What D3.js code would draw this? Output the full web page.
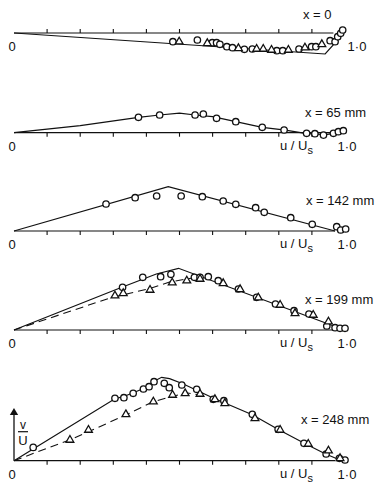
<!DOCTYPE html>
<html>
<head>
<meta charset="utf-8">
<script src="https://cdn.jsdelivr.net/npm/d3@7"></script>
<style>
  body { margin: 0; background: #fff; }
  text { font-family: "Liberation Sans", Arial, sans-serif; fill: #111; }
</style>
</head>
<body>
<div id="canvas"></div>
<script>
"use strict"

/* Data: [u/Us, v/U] */
let labels = ["x = 0", "x = 65 mm", "x = 142 mm", "x = 199 mm", "x = 248 mm"];
let tickValues = [0.1, 0.2, 0.3, 0.4, 0.5, 0.6, 0.7, 0.8, 0.9];

let circles0 = [[0.48,-0.087],[0.554,-0.07],[0.599,-0.097],[0.612,-0.097],[0.622,-0.113],[0.643,-0.137],
    [0.66,-0.147],[0.696,-0.163],[0.72,-0.16],[0.794,-0.177],[0.812,-0.177],[0.861,-0.16],[0.899,-0.137],
    [0.912,-0.137],[0.955,-0.077],[0.97,-0.087],[0.978,-0.037],[0.987,-0.003],[0.993,0.03]];
let triangles0 = [[0.499,-0.087],[0.584,-0.103],[0.678,-0.153],[0.733,-0.16],[0.753,-0.16],[0.778,-0.17],
    [0.829,-0.17],[0.879,-0.147],[0.93,-0.113]];
let solid0 = [[0,0],[0.94,-0.21],[0.97,-0.10],[0.99,0.0]];

let circles65 = [[0.376,0.154],[0.44,0.177],[0.547,0.177],[0.572,0.187],[0.612,0.144],[0.67,0.11],
    [0.75,0.054],[0.816,0.027],[0.884,-0.006],[0.909,-0.01],[0.935,-0.024],[0.965,-0.006],[0.98,0.01],[0.995,0.02]];
let solid65 = [[0,0],[0.2,0.07],[0.376,0.154],[0.44,0.177],[0.5,0.195],[0.547,0.177],[0.6,0.16],[0.67,0.11],
    [0.75,0.054],[0.82,0.025],[0.88,-0.006],[0.94,-0.02],[0.97,-0.006],[1.0,0.02]];

let circles142 = [[0.278,0.27],[0.366,0.333],[0.431,0.35],[0.505,0.35],[0.569,0.343],[0.632,0.30],[0.67,0.267],
    [0.73,0.233],[0.756,0.187],[0.836,0.133],[0.901,0.067],[0.975,0.043],[0.987,0.01],[1.002,0.02]];
let solid142 = [[0,0],[0.466,0.443],[0.97,0.0]];

let circles199 = [[0.328,0.427],[0.389,0.527],[0.443,0.533],[0.474,0.557],[0.545,0.527],[0.562,0.527],
    [0.587,0.533],[0.617,0.493],[0.678,0.41],[0.733,0.327],[0.79,0.26],[0.846,0.193],[0.891,0.16],
    [0.945,0.04],[0.97,0.023],[0.985,0.017],[1.0,0.017]];
let triangles199 = [[0.305,0.343],[0.33,0.367],[0.411,0.40],[0.478,0.473],[0.522,0.493],[0.562,0.51],
    [0.632,0.467],[0.683,0.407],[0.738,0.323],[0.804,0.25],[0.849,0.167],[0.904,0.15],[0.95,0.083]];
let solid199 = [[0,0],[0.32,0.42],[0.43,0.56],[0.497,0.617],[0.95,0.06],[0.985,0.015]];
let dashed199 = [[0,0],[0.29,0.32],[0.35,0.367],[0.41,0.415],[0.47,0.48],[0.53,0.515],[0.565,0.53]];

let circles248 = [[0.058,0.133],[0.305,0.624],[0.332,0.63],[0.36,0.674],[0.391,0.717],[0.408,0.74],
    [0.423,0.79],[0.454,0.774],[0.469,0.73],[0.507,0.757],[0.552,0.714],[0.602,0.614],[0.634,0.60],
    [0.72,0.464],[0.798,0.314],[0.876,0.174],[0.943,0.067],[0.983,0.024],[1.0,0.007]];
let triangles248 = [[0.169,0.207],[0.225,0.307],[0.338,0.463],[0.421,0.59],[0.479,0.657],[0.517,0.673],
    [0.562,0.667],[0.607,0.614],[0.637,0.574],[0.728,0.424],[0.804,0.307],[0.889,0.167],[0.95,0.10],[0.985,0.024]];
let solid248 = [[0,0],[0.305,0.62],[0.33,0.64],[0.36,0.68],[0.39,0.72],[0.42,0.79],[0.446,0.834],[0.47,0.82],
    [0.51,0.77],[0.6,0.63],[0.72,0.46],[0.8,0.31],[0.88,0.17],[0.94,0.07],[0.99,0.0]];
let dashed248 = [[0,0],[0.17,0.21],[0.34,0.46],[0.42,0.59],[0.52,0.68],[0.57,0.65]];

/* Layout */
let svgWidth = 384;
let svgHeight = 490;

let panels = [
    { label: labels[0], base: 33, circles: circles0, triangles: triangles0, solid: solid0, dashed: null,
      tickDir: -1, axisEnd: 0.965, labelX: 303, labelY: 19, oneX: 357, showU: false },
    { label: labels[1], base: 132.7, circles: circles65, triangles: [], solid: solid65, dashed: null,
      tickDir: 1, axisEnd: 0.97, labelX: 305, labelY: 117, oneX: 347, showU: true },
    { label: labels[2], base: 231, circles: circles142, triangles: [], solid: solid142, dashed: null,
      tickDir: 1, axisEnd: 0.97, labelX: 306, labelY: 205, oneX: 347, showU: true },
    { label: labels[3], base: 330, circles: circles199, triangles: triangles199, solid: solid199, dashed: dashed199,
      tickDir: 1, axisEnd: 0.97, labelX: 305, labelY: 304, oneX: 347, showU: true },
    { label: labels[4], base: 460.7, circles: circles248, triangles: triangles248, solid: solid248, dashed: dashed248,
      tickDir: 1, axisEnd: 0.97, labelX: 301, labelY: 424, oneX: 347, showU: true }
];

let svg = d3.select("#canvas")
    .append("svg")
    .attr("width", svgWidth)
    .attr("height", svgHeight);

let xScale = d3.scaleLinear()
    .domain([0, 1])
    .range([14, 345]);

let line = d3.line()
    .x(d => xScale(d[0]));

let triangle = d3.symbol().type(d3.symbolTriangle).size(26);

panels.forEach(function (p, i) {
    let yScale = d3.scaleLinear()
        .domain([0, 1])
        .range([p.base, p.base - 100]);
    line.y(d => yScale(d[1]));

    let g = svg.append("g");

    // axis line
    g.append("line")
        .attr("x1", xScale(0))
        .attr("x2", xScale(p.axisEnd))
        .attr("y1", yScale(0))
        .attr("y2", yScale(0))
        .attr("stroke", "#111")
        .attr("stroke-width", 1.2);

    g.selectAll(".tick")
        .data(tickValues)
        .join("line")
        .attr("x1", d => xScale(d))
        .attr("x2", d => xScale(d))
        .attr("y1", yScale(0))
        .attr("y2", yScale(0) + 4 * p.tickDir)
        .attr("stroke", "#111")
        .attr("stroke-width", 1.1);

    // curves
    g.append("path")
        .attr("d", line(p.solid))
        .attr("fill", "none")
        .attr("stroke", "#111")
        .attr("stroke-width", 1.2);

    if (p.dashed) {
        g.append("path")
            .attr("d", line(p.dashed))
            .attr("fill", "none")
            .attr("stroke", "#111")
            .attr("stroke-width", 1.1)
            .attr("stroke-dasharray", "8,5");
    }

    // markers
    g.selectAll("circle")
        .data(p.circles)
        .join("circle")
        .attr("cx", d => xScale(d[0]))
        .attr("cy", d => yScale(d[1]))
        .attr("r", 3.2)
        .attr("fill", "white")
        .attr("stroke", "#111")
        .attr("stroke-width", 1.3);

    g.selectAll(".tri")
        .data(p.triangles)
        .join("path")
        .attr("d", triangle)
        .attr("transform", d => "translate(" + xScale(d[0]) + "," + yScale(d[1]) + ")")
        .attr("fill", "white")
        .attr("stroke", "#111")
        .attr("stroke-width", 1.3);

    // texts
    g.append("text")
        .attr("x", 12)
        .attr("y", p.base + 18)
        .attr("text-anchor", "middle")
        .attr("font-size", 13)
        .text("0");

    g.append("text")
        .attr("x", p.oneX)
        .attr("y", p.base + 18)
        .attr("text-anchor", "middle")
        .attr("font-size", 13)
        .text("1·0");

    if (p.showU) {
        let t = g.append("text")
            .attr("x", 280)
            .attr("y", p.base + 17)
            .attr("font-size", 13);
        t.append("tspan").text("u / U");
        t.append("tspan")
            .attr("dy", 4)
            .attr("font-size", 11)
            .text("s");
    }

    g.append("text")
        .attr("x", p.labelX)
        .attr("y", p.labelY)
        .attr("font-size", 13)
        .attr("xml:space", "preserve")
        .text(p.label);
});

/* v/U arrow on the last panel */
let lastBase = panels[4].base;
svg.append("line")
    .attr("x1", 14).attr("x2", 14)
    .attr("y1", lastBase)
    .attr("y2", lastBase - 46)
    .attr("stroke", "#111")
    .attr("stroke-width", 1.3);

svg.append("path")
    .attr("d", d3.symbol().type(d3.symbolTriangle).size(30)())
    .attr("transform", "translate(14," + (lastBase - 48) + ")")
    .attr("fill", "#111");

svg.append("text")
    .attr("x", 23).attr("y", lastBase - 32)
    .attr("text-anchor", "middle")
    .attr("font-size", 12)
    .text("v");

svg.append("line")
    .attr("x1", 18).attr("x2", 28)
    .attr("y1", lastBase - 29).attr("y2", lastBase - 29)
    .attr("stroke", "#111")
    .attr("stroke-width", 1.2);

svg.append("text")
    .attr("x", 23).attr("y", lastBase - 16)
    .attr("text-anchor", "middle")
    .attr("font-size", 13)
    .text("U");
</script>
</body>
</html>
